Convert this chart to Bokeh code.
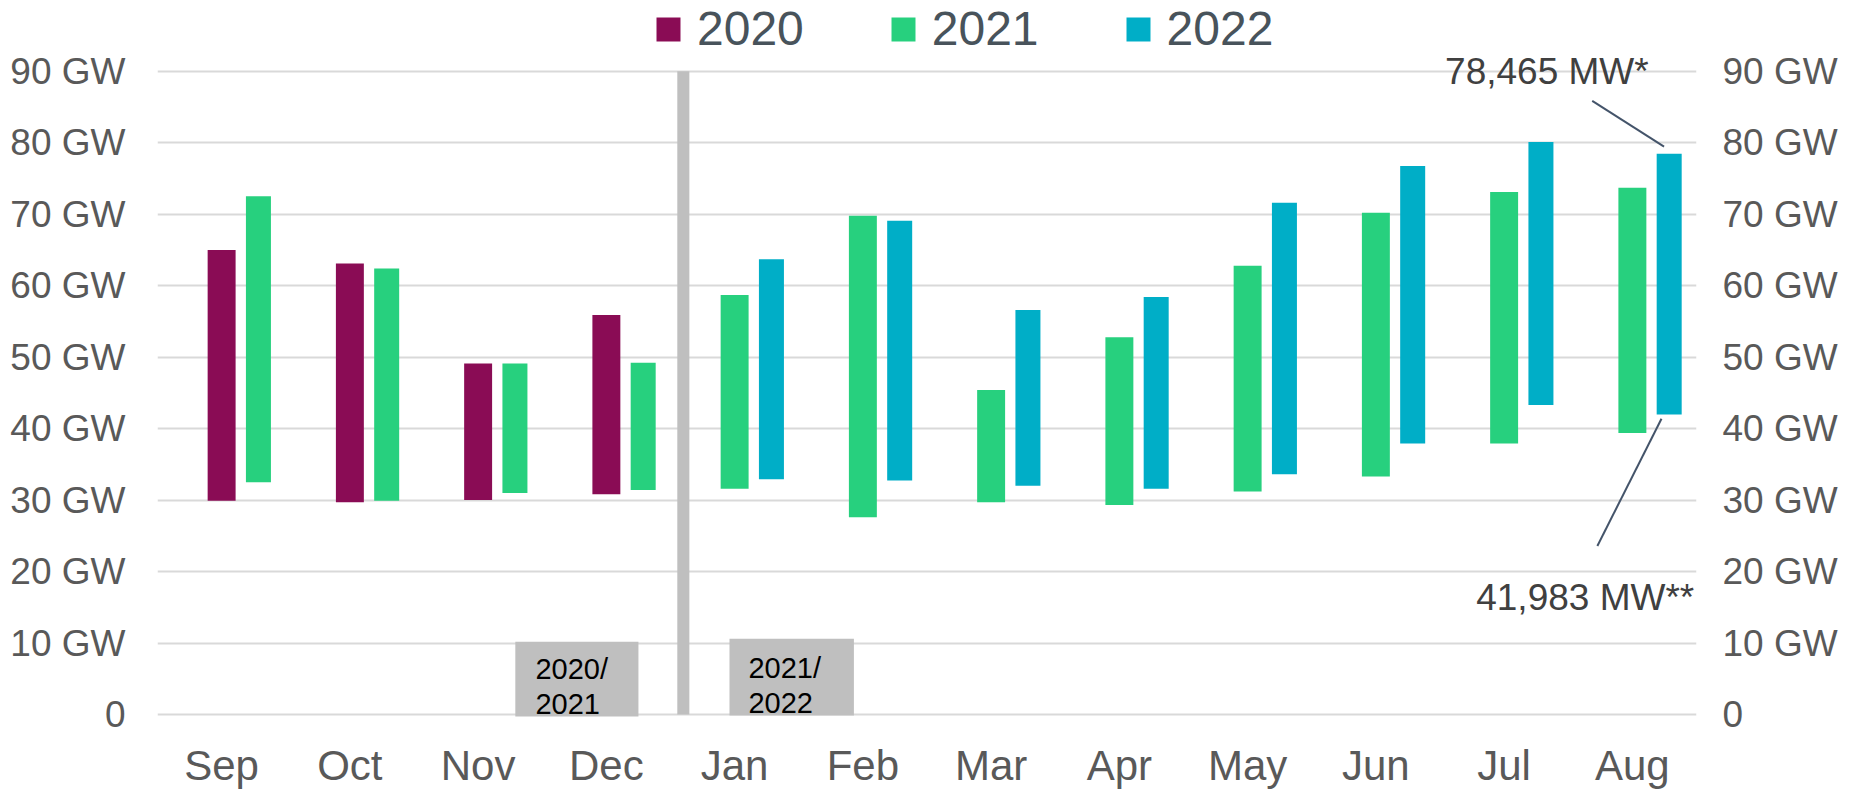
from bokeh.plotting import figure
from bokeh.models import Range1d, FixedTicker, LinearAxis, Legend, LegendItem, ColumnDataSource
from bokeh.core.properties import value
from bokeh.embed import file_html
from bokeh.resources import INLINE

# ---------------- data ----------------
months = ["Sep", "Oct", "Nov", "Dec", "Jan", "Feb", "Mar", "Apr", "May", "Jun", "Jul", "Aug"]

months_2020 = ["Sep", "Oct", "Nov", "Dec"]
low_2020 = [29.9, 29.7, 30.0, 30.8]
high_2020 = [65.0, 63.1, 49.1, 55.9]

months_2021 = months
low_2021 = [32.5, 29.9, 31.0, 31.4, 31.6, 27.6, 29.7, 29.3, 31.2, 33.3, 37.9, 39.4]
high_2021 = [72.5, 62.4, 49.1, 49.2, 58.7, 69.8, 45.4, 52.8, 62.8, 70.2, 73.1, 73.7]

months_2022 = ["Jan", "Feb", "Mar", "Apr", "May", "Jun", "Jul", "Aug"]
low_2022 = [32.9, 32.75, 32.0, 31.6, 33.6, 37.9, 43.3, 41.983]
high_2022 = [63.7, 69.1, 56.6, 58.4, 71.6, 76.75, 80.1, 78.465]

years = ["2020", "2021", "2022"]
colors = ["#8a0c55", "#27d07e", "#00aec7"]

y_tick_values = [0, 10, 20, 30, 40, 50, 60, 70, 80, 90]
y_tick_labels = ["0", "10 GW", "20 GW", "30 GW", "40 GW", "50 GW", "60 GW", "70 GW", "80 GW", "90 GW"]

season_labels = ["2020/\n2021", "2021/\n2022"]

annot_labels = ["78,465 MW*", "41,983 MW**"]
annot_values = [78.465, 41.983]

# ---------------- layout helpers ----------------
W_FIRST, W_SECOND, OFFSET = 0.218, 0.195, 0.287
FONT = "Liberation Sans"

p = figure(width=1853, height=791, x_range=Range1d(-0.5, 11.5), y_range=Range1d(-0.28, 99.9),
           output_backend="svg", toolbar_location=None,
           min_border_left=157, min_border_right=157, min_border_top=0, min_border_bottom=73)
p.outline_line_color = None
p.background_fill_color = "white"
p.border_fill_color = "white"

# gridlines
p.xgrid.visible = False
p.ygrid.ticker = FixedTicker(ticks=y_tick_values)
p.ygrid.grid_line_color = "#d9d9d9"
p.ygrid.grid_line_width = 2

# season separator and boxes (drawn first, under bars)
p.vbar(x=[months.index("Dec") + 0.5 + 0.1], width=0.094, bottom=[0], top=[90],
       fill_color="#bfbfbf", line_color=None)

box_src = ColumnDataSource(dict(
    left=[months.index("Dec") - 0.71, months.index("Jan") - 0.04],
    right=[months.index("Dec") + 0.25, months.index("Jan") + 0.93],
    bottom=[-0.56, -0.14],
    top=[10.19, 10.6],
    tx=[months.index("Dec") - 0.553, months.index("Jan") + 0.108],
    ty=[8.55, 8.7],
    label=season_labels,
))
p.quad(left="left", right="right", bottom="bottom", top="top", source=box_src,
       fill_color="#bfbfbf", line_color=None)
p.text(x="tx", y="ty", text="label", source=box_src, text_font=value(FONT),
       text_font_size="29px", text_color="black", text_baseline="top", text_align="left",
       text_line_height=1.08)

# bars
def xs(mlist, year_months_before):
    out, widths = [], []
    for m in mlist:
        i = months.index(m)
        if m in year_months_before:
            out.append(i + OFFSET); widths.append(W_SECOND)
        else:
            out.append(i); widths.append(W_FIRST)
    return out, widths

x20, w20 = xs(months_2020, [])
x21, w21 = xs(months_2021, months_2020)
x22, w22 = xs(months_2022, months_2021)

renderers = []
for xv, wv, lo, hi, c in [(x20, w20, low_2020, high_2020, colors[0]),
                          (x21, w21, low_2021, high_2021, colors[1]),
                          (x22, w22, low_2022, high_2022, colors[2])]:
    src = ColumnDataSource(dict(x=xv, w=wv, bottom=lo, top=hi))
    r = p.vbar(x="x", width="w", bottom="bottom", top="top", source=src,
               fill_color=c, line_color=None)
    renderers.append(r)

# annotations for Aug 2022
aug_x = x22[months_2022.index("Aug")]
top_v, bot_v = annot_values
p.segment(x0=[aug_x - 0.6, aug_x - 0.56], y0=[top_v + 7.4, bot_v - 18.4],
          x1=[aug_x - 0.04, aug_x - 0.06], y1=[top_v + 1.0, bot_v - 0.6],
          line_color="#44546a", line_width=2)
p.text(x=[aug_x - 0.16, aug_x + 0.195], y=[top_v + 11.55, bot_v - 25.6], text=annot_labels,
       text_font=value(FONT), text_font_size="37px", text_color="#404040",
       text_align="right", text_baseline="alphabetic")

# axes
p.xaxis.ticker = FixedTicker(ticks=list(range(len(months))))
p.xaxis.major_label_overrides = {i: m for i, m in enumerate(months)}
p.xaxis.major_label_text_font = FONT
p.xaxis.major_label_text_font_size = "42px"
p.xaxis.major_label_text_color = "#595959"
p.xaxis.major_label_standoff = 25
p.xaxis.axis_line_color = None
p.xaxis.major_tick_line_color = None
p.xaxis.minor_tick_line_color = None
p.xaxis.major_tick_out = 0
p.xaxis.major_tick_in = 0

overrides = {v: l for v, l in zip(y_tick_values, y_tick_labels)}
right_axis = LinearAxis()
p.add_layout(right_axis, "right")
for ax, standoff in [(p.yaxis[0], 32), (right_axis, 26)]:
    ax.ticker = FixedTicker(ticks=y_tick_values)
    ax.major_label_overrides = overrides
    ax.major_label_text_font = FONT
    ax.major_label_text_font_size = "37px"
    ax.major_label_text_color = "#595959"
    ax.major_label_standoff = standoff
    ax.axis_line_color = None
    ax.major_tick_line_color = None
    ax.minor_tick_line_color = None
    ax.major_tick_out = 0
    ax.major_tick_in = 0

# legend
legend = Legend(items=[LegendItem(label=y, renderers=[r]) for y, r in zip(years, renderers)],
                orientation="horizontal", location=(496, 660), padding=0, margin=0,
                spacing=84, label_standoff=14, glyph_width=30, glyph_height=30,
                label_text_font=FONT, label_text_font_size="48px", label_text_color="#48535b",
                border_line_color=None, background_fill_alpha=0)
p.add_layout(legend, "center")

open("out.html", "w").write(file_html(p, INLINE))
